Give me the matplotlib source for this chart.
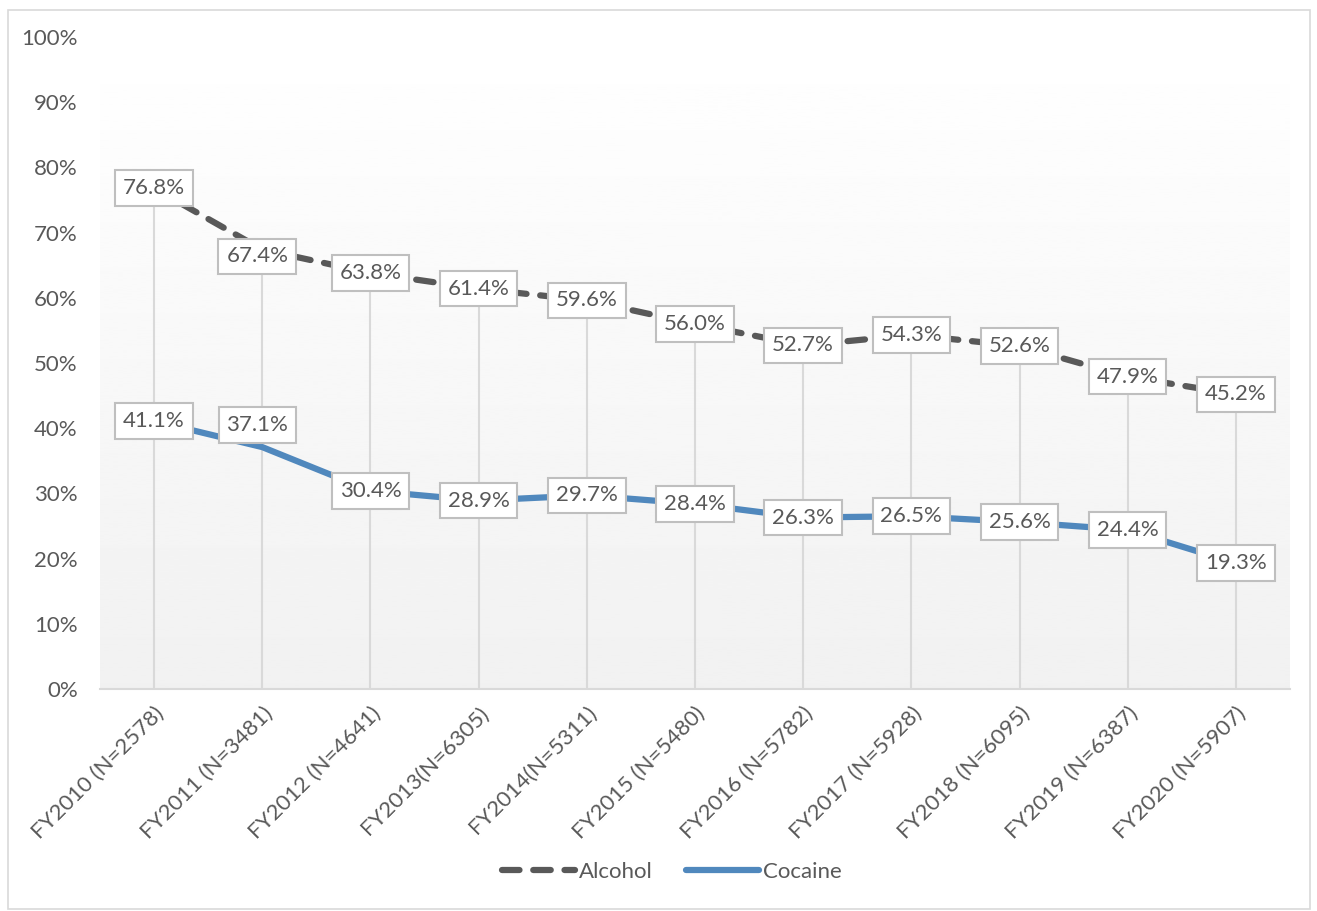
import matplotlib.pyplot as plt
import numpy as np
from matplotlib.patches import Rectangle

# Fiscal years with sample sizes
categorias = ['FY2010 (N=2578)', 'FY2011 (N=3481)', 'FY2012 (N=4641)', 'FY2013(N=6305)',
              'FY2014(N=5311)', 'FY2015 (N=5480)', 'FY2016 (N=5782)', 'FY2017 (N=5928)',
              'FY2018 (N=6095)', 'FY2019 (N=6387)', 'FY2020 (N=5907)']
alcohol = [76.8, 67.4, 63.8, 61.4, 59.6, 56.0, 52.7, 54.3, 52.6, 47.9, 45.2]
cocaina = [41.1, 37.1, 30.4, 28.9, 29.7, 28.4, 26.3, 26.5, 25.6, 24.4, 19.3]

plt.rcParams['font.family'] = ['Lato', 'DejaVu Sans']
gris_texto = '#595959'
tam = 16

fig = plt.figure(figsize=(13.17, 9.11), dpi=100)
ax = fig.add_axes([100 / 1317, 1 - 689 / 911, 1190 / 1317, 652 / 911])

x = np.arange(len(categorias))
ax.set_xlim(-0.5, len(categorias) - 0.5)
ax.set_ylim(0, 100)

# fondo degradado del area de trazado
degradado = np.linspace(1.0, 0.945, 256).reshape(-1, 1)
ax.imshow(degradado, cmap='gray', vmin=0, vmax=1, aspect='auto',
          extent=(-0.5, len(categorias) - 0.5, 0, 100), origin='upper', zorder=0)

# lineas de caida desde el valor mas alto
ax.vlines(x, 0, np.maximum(alcohol, cocaina), color='#d9d9d9', lw=1.5, zorder=1)

ax.plot(x, alcohol, color=gris_texto, lw=4.5, linestyle=(0, (2.8, 2.2)),
        dash_capstyle='round', label='Alcohol', zorder=2)
ax.plot(x, cocaina, color='#5088bd', lw=4.5, solid_capstyle='round',
        label='Cocaine', zorder=2)

# etiquetas de datos; algunas movidas a mano para que no tapen la linea
caja = dict(boxstyle='square,pad=0.35', fc='white', ec='#bfbfbf', lw=1.5)
desplaz_alc = {1: (-3.6, -5)}
desplaz_coc = {1: (-3.6, 16)}
for i, (a, c) in enumerate(zip(alcohol, cocaina)):
    ax.annotate(f'{a:.1f}%', (x[i], a), xytext=desplaz_alc.get(i, (0, 0)),
                textcoords='offset points', ha='center', va='center', fontsize=tam,
                color=gris_texto, bbox=caja, zorder=4)
    ax.annotate(f'{c:.1f}%', (x[i], c), xytext=desplaz_coc.get(i, (0, 0)),
                textcoords='offset points', ha='center', va='center', fontsize=tam,
                color=gris_texto, bbox=caja, zorder=4)

ax.set_yticks(range(0, 101, 10))
ax.set_yticklabels([f'{v}%' for v in range(0, 101, 10)])
ax.set_xticks(x)
ax.set_xticklabels(categorias, rotation=45, ha='right', rotation_mode='anchor')
ax.tick_params(axis='y', length=0, pad=16, labelsize=tam, labelcolor=gris_texto)
ax.tick_params(axis='x', length=0, pad=10, labelsize=tam, labelcolor=gris_texto)

for lado in ['top', 'right', 'left']:
    ax.spines[lado].set_visible(False)
ax.spines['bottom'].set_color('#d9d9d9')
ax.spines['bottom'].set_linewidth(1.5)

fig.legend(loc='center', bbox_to_anchor=(0.51, 1 - 872 / 911), ncol=2, frameon=False,
           fontsize=tam, handlelength=3.3, handletextpad=0.15, columnspacing=1.5,
           labelcolor=gris_texto)

# borde exterior del grafico
fig.patches.append(Rectangle((8 / 1317, 0.002), 1302 / 1317, 1 - 10 / 911 - 0.002,
                             transform=fig.transFigure, fill=False, ec='#d9d9d9', lw=1.2))

fig.savefig('out.png', dpi=100)
